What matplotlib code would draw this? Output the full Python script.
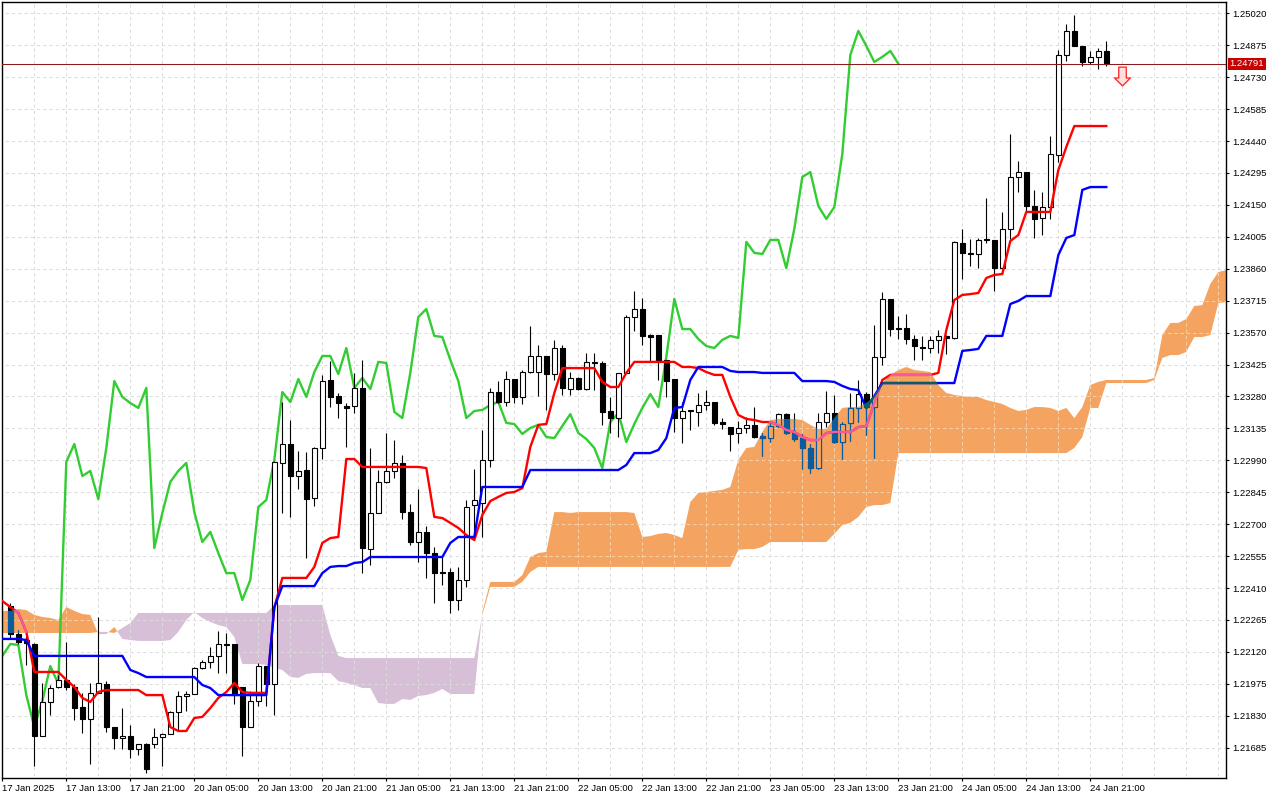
import numpy as np
import matplotlib
matplotlib.use('Agg')
import matplotlib.pyplot as plt
from matplotlib.path import Path

plt.rcParams['font.family'] = ['Liberation Sans', 'DejaVu Sans']

# GBP-like H1 chart with Ichimoku, bars start 17 Jan 2025 05:00 (bar 0)
# candles are bars 1..138
open_ = [
    1.22329, 1.22201, 1.22174, 1.22156, 1.21738, 1.21893, 1.21961, 1.21993, 1.21961, 1.21870,
    1.21815, 1.21934, 1.21974, 1.21779, 1.21729, 1.21738, 1.21679, 1.21702, 1.21702, 1.21734,
    1.21747, 1.21847, 1.21920, 1.21929, 1.22047, 1.22074, 1.22102, 1.22156, 1.22156, 1.21961,
    1.21779, 1.21897, 1.22056, 1.21974, 1.22978, 1.23064, 1.22919, 1.22946, 1.22819, 1.23046,
    1.23355, 1.23282, 1.23237, 1.23237, 1.23319, 1.22587, 1.22751, 1.22892, 1.22942, 1.22978,
    1.22755, 1.22619, 1.22665, 1.22569, 1.22483, 1.22483, 1.22356, 1.22447, 1.22787, 1.22796,
    1.22992, 1.23300, 1.23255, 1.23359, 1.23278, 1.23391, 1.23391, 1.23464, 1.23382, 1.23500,
    1.23314, 1.23364, 1.23314, 1.23437, 1.23432, 1.23214, 1.23182, 1.23387, 1.23641, 1.23677,
    1.23559, 1.23559, 1.23446, 1.23359, 1.23182, 1.23214, 1.23210, 1.23241, 1.23255, 1.23164,
    1.23141, 1.23114, 1.23137, 1.23151, 1.23101, 1.23091, 1.23146, 1.23200, 1.23114, 1.23091,
    1.23046, 1.22955, 1.23164, 1.23205, 1.23073, 1.23160, 1.23228, 1.23291, 1.23232, 1.23459,
    1.23723, 1.23591, 1.23591, 1.23541, 1.23505, 1.23500, 1.23537, 1.23555, 1.23546, 1.23977,
    1.23932, 1.23927, 1.23995, 1.23991, 1.23863, 1.24041, 1.24277, 1.24299, 1.24145, 1.24091,
    1.24140, 1.24377, 1.24831, 1.24940, 1.24872, 1.24799, 1.24822, 1.24849,
]
high = [
    1.22342, 1.22220, 1.22192, 1.22160, 1.21979, 1.21970, 1.22015, 1.22165, 1.21974, 1.21934,
    1.21979, 1.22279, 1.21988, 1.21779, 1.21865, 1.21788, 1.21702, 1.21706, 1.21775, 1.21752,
    1.21852, 1.21943, 1.21943, 1.22052, 1.22083, 1.22142, 1.22215, 1.22206, 1.22156, 1.21961,
    1.21943, 1.22070, 1.22056, 1.22987, 1.23255, 1.23173, 1.23032, 1.23028, 1.23051, 1.23378,
    1.23441, 1.23296, 1.23250, 1.23387, 1.23446, 1.23046, 1.22946, 1.23114, 1.23082, 1.23014,
    1.22792, 1.22860, 1.22692, 1.22597, 1.22551, 1.22501, 1.22506, 1.22810, 1.22951, 1.23128,
    1.23319, 1.23350, 1.23396, 1.23359, 1.23400, 1.23600, 1.23514, 1.23464, 1.23537, 1.23514,
    1.23391, 1.23368, 1.23477, 1.23477, 1.23441, 1.23278, 1.23387, 1.23650, 1.23759, 1.23727,
    1.23564, 1.23559, 1.23446, 1.23359, 1.23255, 1.23219, 1.23296, 1.23309, 1.23255, 1.23182,
    1.23141, 1.23169, 1.23187, 1.23232, 1.23114, 1.23164, 1.23205, 1.23205, 1.23205, 1.23110,
    1.23064, 1.23205, 1.23306, 1.23287, 1.23164, 1.23296, 1.23355, 1.23300, 1.23605, 1.23754,
    1.23723, 1.23645, 1.23655, 1.23559, 1.23555, 1.23555, 1.23582, 1.23559, 1.23986, 1.24041,
    1.23995, 1.24000, 1.24181, 1.23991, 1.24118, 1.24472, 1.24349, 1.24299, 1.24218, 1.24209,
    1.24463, 1.24853, 1.24971, 1.25012, 1.24872, 1.24849, 1.24862, 1.24894,
]
low = [
    1.22183, 1.22156, 1.22061, 1.21602, 1.21738, 1.21834, 1.21956, 1.21947, 1.21811, 1.21752,
    1.21611, 1.21934, 1.21756, 1.21679, 1.21679, 1.21638, 1.21652, 1.21570, 1.21684, 1.21602,
    1.21747, 1.21766, 1.21852, 1.21929, 1.22043, 1.22047, 1.22024, 1.22024, 1.21884, 1.21647,
    1.21779, 1.21875, 1.21875, 1.21834, 1.22751, 1.22733, 1.22860, 1.22547, 1.22783, 1.22996,
    1.23232, 1.23182, 1.23051, 1.23205, 1.22478, 1.22515, 1.22751, 1.22887, 1.22910, 1.22724,
    1.22606, 1.22528, 1.22456, 1.22342, 1.22424, 1.22297, 1.22310, 1.22415, 1.22642, 1.22642,
    1.22960, 1.23250, 1.23237, 1.23250, 1.23246, 1.23387, 1.23282, 1.23219, 1.23355, 1.23287,
    1.23287, 1.23309, 1.23309, 1.23309, 1.23151, 1.23114, 1.23096, 1.23387, 1.23577, 1.23514,
    1.23437, 1.23355, 1.23278, 1.23119, 1.23069, 1.23128, 1.23146, 1.23219, 1.23151, 1.23132,
    1.23032, 1.23069, 1.23114, 1.23091, 1.23010, 1.23073, 1.23141, 1.23110, 1.23078, 1.22951,
    1.22933, 1.22951, 1.23141, 1.23069, 1.22996, 1.23078, 1.23164, 1.23105, 1.23001, 1.23423,
    1.23555, 1.23541, 1.23518, 1.23446, 1.23446, 1.23477, 1.23477, 1.23473, 1.23541, 1.23814,
    1.23873, 1.23863, 1.23977, 1.23759, 1.23863, 1.23995, 1.24209, 1.24118, 1.24000, 1.24013,
    1.24086, 1.24345, 1.24803, 1.24872, 1.24781, 1.24790, 1.24767, 1.24781,
]
close = [
    1.22201, 1.22165, 1.22160, 1.21738, 1.21893, 1.21956, 1.21993, 1.21961, 1.21865, 1.21815,
    1.21934, 1.21979, 1.21779, 1.21729, 1.21738, 1.21679, 1.21702, 1.21588, 1.21734, 1.21747,
    1.21847, 1.21920, 1.21929, 1.22047, 1.22074, 1.22102, 1.22156, 1.22152, 1.21924, 1.21779,
    1.21897, 1.22056, 1.21974, 1.22983, 1.23064, 1.22919, 1.22942, 1.22814, 1.23046, 1.23350,
    1.23278, 1.23250, 1.23228, 1.23319, 1.22592, 1.22751, 1.22892, 1.22942, 1.22978, 1.22755,
    1.22619, 1.22665, 1.22569, 1.22478, 1.22478, 1.22356, 1.22447, 1.22778, 1.22810, 1.22992,
    1.23300, 1.23255, 1.23359, 1.23278, 1.23391, 1.23464, 1.23464, 1.23382, 1.23500, 1.23319,
    1.23364, 1.23314, 1.23437, 1.23432, 1.23210, 1.23182, 1.23387, 1.23641, 1.23677, 1.23555,
    1.23550, 1.23446, 1.23350, 1.23182, 1.23214, 1.23219, 1.23241, 1.23255, 1.23160, 1.23155,
    1.23110, 1.23137, 1.23151, 1.23096, 1.23091, 1.23146, 1.23200, 1.23114, 1.23087, 1.23046,
    1.22955, 1.23164, 1.23205, 1.23073, 1.23155, 1.23228, 1.23291, 1.23232, 1.23459, 1.23723,
    1.23586, 1.23586, 1.23541, 1.23509, 1.23500, 1.23537, 1.23555, 1.23546, 1.23982, 1.23932,
    1.23927, 1.23991, 1.23991, 1.23863, 1.24041, 1.24277, 1.24299, 1.24145, 1.24086, 1.24140,
    1.24381, 1.24831, 1.24940, 1.24872, 1.24799, 1.24822, 1.24849, 1.24791,
]

# Tenkan-sen and Kijun-sen, bars 0..138
tenkan = [
    1.22351, 1.22324, 1.22297, 1.22211, 1.22029, 1.22029, 1.22029, 1.22029, 1.21993, 1.21961,
    1.21911, 1.21893, 1.21938, 1.21947, 1.21947, 1.21947, 1.21947, 1.21947, 1.21924, 1.21924,
    1.21924, 1.21779, 1.21761, 1.21761, 1.21820, 1.21825, 1.21865, 1.21911, 1.21938, 1.21979,
    1.21938, 1.21934, 1.21934, 1.21934, 1.22320, 1.22456, 1.22456, 1.22456, 1.22456, 1.22506,
    1.22615, 1.22637, 1.22642, 1.22996, 1.22996, 1.22960, 1.22960, 1.22960, 1.22960, 1.22960,
    1.22960, 1.22960, 1.22960, 1.22955, 1.22733, 1.22728, 1.22706, 1.22683, 1.22651, 1.22628,
    1.22742, 1.22805, 1.22824, 1.22842, 1.22846, 1.22864, 1.23051, 1.23151, 1.23155, 1.23296,
    1.23409, 1.23409, 1.23409, 1.23409, 1.23409, 1.23346, 1.23323, 1.23323, 1.23387, 1.23437,
    1.23437, 1.23437, 1.23437, 1.23437, 1.23437, 1.23414, 1.23414, 1.23409, 1.23391, 1.23378,
    1.23378, 1.23278, 1.23196, 1.23178, 1.23173, 1.23164, 1.23164, 1.23151, 1.23128, 1.23119,
    1.23096, 1.23082, 1.23082, 1.23114, 1.23119, 1.23119, 1.23119, 1.23141, 1.23146, 1.23250,
    1.23355, 1.23378, 1.23378, 1.23378, 1.23378, 1.23378, 1.23378, 1.23387, 1.23582, 1.23718,
    1.23741, 1.23745, 1.23750, 1.23818, 1.23832, 1.23836, 1.23986, 1.24013, 1.24118, 1.24118,
    1.24118, 1.24118, 1.24308, 1.24413, 1.24508, 1.24508, 1.24508, 1.24508, 1.24508,
]
kijun = [
    1.22179, 1.22179, 1.22179, 1.22174, 1.22102, 1.22102, 1.22102, 1.22102, 1.22102, 1.22102,
    1.22102, 1.22102, 1.22102, 1.22102, 1.22102, 1.22102, 1.22038, 1.22024, 1.22006, 1.22006,
    1.22006, 1.22006, 1.22006, 1.22006, 1.22006, 1.21970, 1.21956, 1.21924, 1.21924, 1.21924,
    1.21924, 1.21924, 1.21924, 1.21924, 1.22324, 1.22419, 1.22419, 1.22419, 1.22419, 1.22419,
    1.22478, 1.22506, 1.22510, 1.22510, 1.22524, 1.22528, 1.22551, 1.22551, 1.22551, 1.22551,
    1.22551, 1.22551, 1.22551, 1.22551, 1.22551, 1.22551, 1.22615, 1.22642, 1.22642, 1.22642,
    1.22869, 1.22869, 1.22869, 1.22869, 1.22869, 1.22869, 1.22946, 1.22946, 1.22946, 1.22946,
    1.22946, 1.22946, 1.22946, 1.22946, 1.22946, 1.22946, 1.22946, 1.22946, 1.22969, 1.23023,
    1.23023, 1.23023, 1.23037, 1.23091, 1.23228, 1.23232, 1.23355, 1.23414, 1.23414, 1.23414,
    1.23414, 1.23396, 1.23391, 1.23391, 1.23391, 1.23387, 1.23387, 1.23387, 1.23387, 1.23387,
    1.23350, 1.23350, 1.23350, 1.23350, 1.23346, 1.23328, 1.23314, 1.23309, 1.23228, 1.23282,
    1.23341, 1.23341, 1.23341, 1.23341, 1.23341, 1.23341, 1.23341, 1.23341, 1.23341, 1.23341,
    1.23487, 1.23491, 1.23496, 1.23555, 1.23555, 1.23555, 1.23700, 1.23714, 1.23736, 1.23736,
    1.23736, 1.23736, 1.23922, 1.24000, 1.24013, 1.24218, 1.24231, 1.24231, 1.24231,
]

# Senkou spans (already shifted 26 bars ahead), bars 0..153
span_a = [
    1.22306, 1.22306, 1.22315, 1.22310, 1.22288, 1.22279, 1.22274, 1.22265, 1.22324, 1.22306,
    1.22292, 1.22288, 1.22201, 1.22201, 1.22233, 1.22179, 1.22174, 1.22170, 1.22170, 1.22170,
    1.22170, 1.22174, 1.22211, 1.22265, 1.22301, 1.22274, 1.22256, 1.22242, 1.22233, 1.22188,
    1.22065, 1.22065, 1.22065, 1.22061, 1.22047, 1.22038, 1.22006, 1.22002, 1.22020, 1.22024,
    1.22024, 1.22024, 1.21988, 1.21979, 1.21970, 1.21956, 1.21956, 1.21888, 1.21884, 1.21884,
    1.21906, 1.21902, 1.21920, 1.21924, 1.21934, 1.21952, 1.21929, 1.21929, 1.21929, 1.21929,
    1.22301, 1.22438, 1.22438, 1.22438, 1.22438, 1.22469, 1.22551, 1.22569, 1.22574, 1.22755,
    1.22755, 1.22751, 1.22755, 1.22755, 1.22755, 1.22755, 1.22755, 1.22755, 1.22755, 1.22751,
    1.22642, 1.22646, 1.22656, 1.22660, 1.22651, 1.22637, 1.22801, 1.22842, 1.22846, 1.22851,
    1.22856, 1.22869, 1.22992, 1.23046, 1.23051, 1.23119, 1.23173, 1.23178, 1.23178, 1.23178,
    1.23173, 1.23151, 1.23132, 1.23132, 1.23182, 1.23228, 1.23232, 1.23232, 1.23250, 1.23282,
    1.23341, 1.23378, 1.23400, 1.23414, 1.23400, 1.23396, 1.23391, 1.23332, 1.23296, 1.23287,
    1.23282, 1.23278, 1.23278, 1.23264, 1.23255, 1.23246, 1.23228, 1.23214, 1.23219, 1.23232,
    1.23232, 1.23228, 1.23214, 1.23228, 1.23182, 1.23232, 1.23332, 1.23346, 1.23355, 1.23355,
    1.23355, 1.23355, 1.23355, 1.23355, 1.23364, 1.23559, 1.23614, 1.23614, 1.23632, 1.23691,
    1.23695, 1.23791, 1.23845, 1.23854,
]
span_b = (
    [1.22206] * 12 + [1.22211, 1.22211, 1.22206, 1.22229, 1.22251]
    + [1.22297] * 17 + [1.22333] * 7 + [1.22197, 1.22102]
    + [1.22092] * 17 + [1.22288] + [1.22415] * 4 + [1.22438, 1.22483]
    + [1.22506] * 25 + [1.22583, 1.22587, 1.22587, 1.22597]
    + [1.22619] * 8
    + [1.22656, 1.22696, 1.22706, 1.22733, 1.22778, 1.22787, 1.22787, 1.22796]
    + [1.23023] * 22 + [1.23046, 1.23096, 1.23228, 1.23228]
    + [1.23341] * 6
    + [1.23355, 1.23455, 1.23468, 1.23468, 1.23482, 1.23550, 1.23550, 1.23559, 1.23704, 1.23709]
)

price_ticks = [1.21685, 1.21830, 1.21975, 1.22120, 1.22265, 1.22410, 1.22555, 1.22700,
               1.22845, 1.22990, 1.23135, 1.23280, 1.23425, 1.23570, 1.23715, 1.23860,
               1.24005, 1.24150, 1.24295, 1.24440, 1.24585, 1.24730, 1.24875, 1.25020]
time_labels = ['17 Jan 2025', '17 Jan 13:00', '17 Jan 21:00', '20 Jan 05:00', '20 Jan 13:00',
               '20 Jan 21:00', '21 Jan 05:00', '21 Jan 13:00', '21 Jan 21:00', '22 Jan 05:00',
               '22 Jan 13:00', '22 Jan 21:00', '23 Jan 05:00', '23 Jan 13:00', '23 Jan 21:00',
               '24 Jan 05:00', '24 Jan 13:00', '24 Jan 21:00']
last_price = 1.24791
signal_bar = 140
signal_price = 1.24733

ORANGE = '#f4a460'
PURPLE = '#d8bfd8'
INV_BLACK = '#0b5b9f'   # black drawn through the orange cloud
INV_RED = '#f45b9f'
INV_BLUE = '#0b5b60'

o = np.array(open_)
h = np.array(high)
l = np.array(low)
c = np.array(close)
x = np.arange(1, len(c) + 1)
up = c >= o

fig = plt.figure(figsize=(12.8, 8), dpi=100)
ax = fig.add_axes([2 / 1280, 22 / 800, 1224 / 1280, 776 / 800])

# cloud
cx = np.arange(len(span_a))
a = np.array(span_a)
b = np.array(span_b)
orange = ax.fill_between(cx, a, b, where=a >= b, interpolate=True, color=ORANGE, lw=0, zorder=1)
ax.fill_between(cx, a, b, where=b > a, interpolate=True, color=PURPLE, lw=0, zorder=1)
cloud_clip = Path.make_compound_path(*orange.get_paths())

# grid
gx = np.arange(0, 153, 4)
for col, z, clip in [('#dcdcdc', 1.5, None), ('#f8cfa0', 1.6, cloud_clip)]:
    g1 = ax.hlines(price_ticks, -2, 160, colors=col, linewidth=0.75, linestyles=(0, (3, 3)), zorder=z)
    g2 = ax.vlines(gx, 1.20, 1.26, colors=col, linewidth=0.75, linestyles=(0, (3, 3)), zorder=z)
    if clip is not None:
        g1.set_clip_path(clip, ax.transData)
        g2.set_clip_path(clip, ax.transData)

# chikou span = close moved back 26 bars
chikou = close[25:]
ax.plot(np.arange(len(chikou)), chikou, color='#32cd32', lw=1.7, zorder=2)


def draw_candles(bull_face, bull_edge, bear_col, z, clip=None):
    wick_cols = [bull_edge if u else bear_col for u in up]
    wicks = ax.vlines(x, l, h, colors=wick_cols, linewidth=0.8, zorder=z)
    lo = np.minimum(o, c)
    hi = np.maximum(o, c)
    faces = [bull_face if u else bear_col for u in up]
    edges = [bull_edge if u else bear_col for u in up]
    bars = ax.bar(x, hi - lo, bottom=lo, width=0.6, color=faces, edgecolor=edges,
                  linewidth=0.8, zorder=z + 0.1)
    if clip is not None:
        wicks.set_clip_path(clip, ax.transData)
        for p in bars.patches:
            p.set_clip_path(clip, ax.transData)


draw_candles('white', 'black', 'black', 3)
draw_candles(ORANGE, INV_BLACK, INV_BLACK, 5, cloud_clip)

lx = np.arange(len(tenkan))
ax.plot(lx, tenkan, color='red', lw=1.7, zorder=4)
ax.plot(lx, kijun, color='blue', lw=1.7, zorder=4)
t2, = ax.plot(lx, tenkan, color=INV_RED, lw=1.7, zorder=5.5)
k2, = ax.plot(lx, kijun, color=INV_BLUE, lw=1.7, zorder=5.5)
t2.set_clip_path(cloud_clip, ax.transData)
k2.set_clip_path(cloud_clip, ax.transData)

# current price and signal
ax.axhline(last_price, color='#8c1c1c', lw=0.75, zorder=6)
ax.text(1.003, last_price, f'{last_price:.5f}', transform=ax.get_yaxis_transform(),
        ha='left', va='center', color='white', fontsize=6.8, zorder=10, clip_on=False,
        bbox=dict(boxstyle='square,pad=0.18', fc='#c80000', ec='none'))
arrow = Path([(-0.4, 1), (0.4, 1), (0.4, -0.16), (0.85, -0.16), (0, -1),
              (-0.85, -0.16), (-0.4, -0.16), (-0.4, 1)], closed=True)
ax.plot([signal_bar], [signal_price], marker=arrow, markersize=13.5, color='none',
        markerfacecolor='#ffe0e0', markeredgecolor='#ff2020', markeredgewidth=0.9, zorder=7)

ax.set_xlim(-0.04, 152.96)
ax.set_ylim(1.215475, 1.250713)

ax.yaxis.tick_right()
ax.set_yticks(price_ticks)
ax.set_yticklabels([f'{v:.5f}' for v in price_ticks])
ax.set_xticks(np.arange(0, 8 * len(time_labels), 8))
ax.set_xticklabels(time_labels)
for t in ax.get_xticklabels():
    t.set_ha('left')
ax.tick_params(axis='both', labelsize=6.8, length=2.5, width=0.8, direction='out', pad=2,
               colors='black')
for s in ax.spines.values():
    s.set_color('black')
    s.set_linewidth(1.0)

fig.savefig('out.png', dpi=100, facecolor='white')
